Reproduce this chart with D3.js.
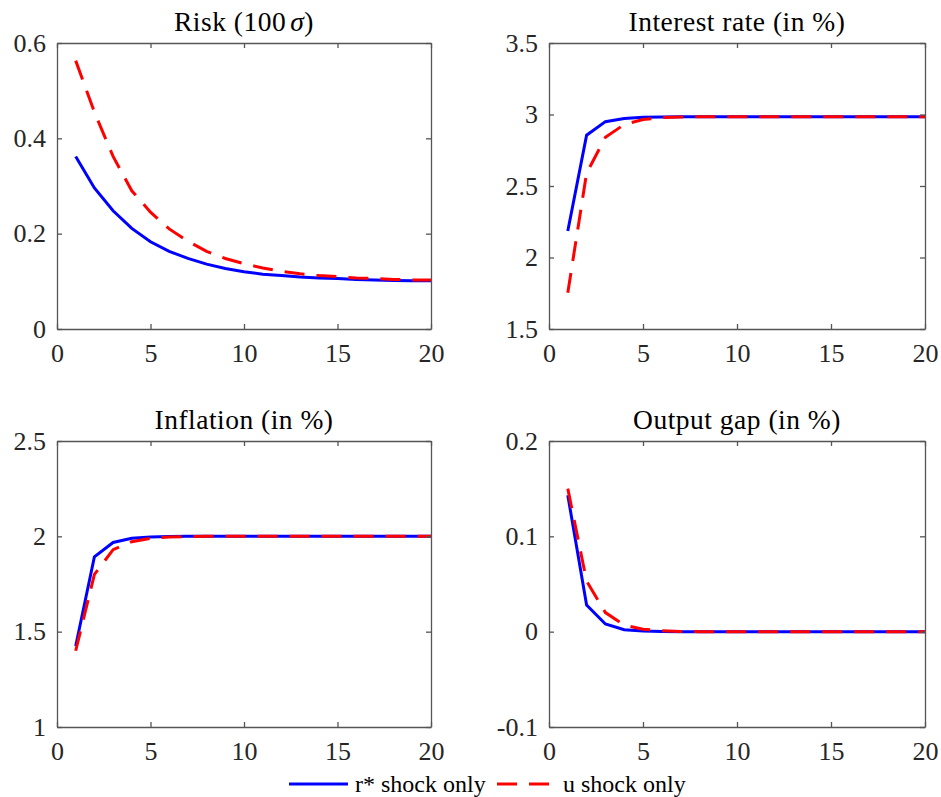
<!DOCTYPE html>
<html>
<head>
<meta charset="UTF-8">
<title>Impulse responses</title>
<script src="https://d3js.org/d3.v7.min.js"></script>
<style>
  body { margin: 0; background: #fff; }
  svg text { font-family: "Liberation Serif", "Times New Roman", serif; }
  .axis path, .axis line { stroke: #555; stroke-width: 1.3px; }
  .axis text { fill: #262626; font-size: 26px; }
  .title { font-size: 27.5px; letter-spacing: 0.5px; fill: #000; }
</style>
</head>
<body>
<div id="chart"></div>
<script>
// horizon (quarters)
var periods = [1, 2, 3, 4, 5, 6, 7, 8, 9, 10, 11, 12, 13, 14, 15, 16, 17, 18, 19, 20];
var xTicks = [0, 5, 10, 15, 20];

// Risk (100 sigma)
var riskRstar = [0.362, 0.296, 0.248, 0.211, 0.183, 0.163, 0.148, 0.136, 0.127, 0.120, 0.115, 0.112, 0.109, 0.107, 0.106, 0.104, 0.103, 0.102, 0.101, 0.101];
var riskU     = [0.563, 0.455, 0.362, 0.290, 0.245, 0.210, 0.184, 0.163, 0.148, 0.137, 0.128, 0.121, 0.116, 0.112, 0.110, 0.107, 0.106, 0.104, 0.103, 0.103];
// Interest rate
var rateRstar = [2.185, 2.855, 2.950, 2.972, 2.980, 2.983, 2.984, 2.985, 2.985, 2.985, 2.985, 2.985, 2.985, 2.985, 2.985, 2.985, 2.985, 2.985, 2.985, 2.985];
var rateU     = [1.754, 2.590, 2.840, 2.930, 2.965, 2.978, 2.983, 2.985, 2.985, 2.985, 2.985, 2.985, 2.985, 2.985, 2.985, 2.985, 2.985, 2.985, 2.985, 2.985];
// Inflation
var inflRstar = [1.425, 1.893, 1.968, 1.990, 1.997, 1.999, 2.000, 2.000, 2.000, 2.000, 2.000, 2.000, 2.000, 2.000, 2.000, 2.000, 2.000, 2.000, 2.000, 2.000];
var inflU     = [1.400, 1.800, 1.930, 1.972, 1.990, 1.996, 1.999, 2.000, 2.000, 2.000, 2.000, 2.000, 2.000, 2.000, 2.000, 2.000, 2.000, 2.000, 2.000, 2.000];
// Output gap
var gapRstar = [0.143, 0.028, 0.008, 0.002, 0.0006, 0.0002, 0, 0, 0, 0, 0, 0, 0, 0, 0, 0, 0, 0, 0, 0];
var gapU     = [0.150, 0.053, 0.020, 0.007, 0.0025, 0.001, 0.0003, 0, 0, 0, 0, 0, 0, 0, 0, 0, 0, 0, 0, 0];

var titles = ['Risk (100', 'Interest rate (in %)', 'Inflation (in %)', 'Output gap (in %)'];
var yDomains = [[0, 0.6], [1.5, 3.5], [1, 2.5], [-0.1, 0.2]];
var yTicks = [[0, 0.2, 0.4, 0.6], [1.5, 2, 2.5, 3, 3.5], [1, 1.5, 2, 2.5], [-0.1, 0, 0.1, 0.2]];
var seriesNames = ['r* shock only', 'u shock only'];

var width = 941, height = 797;
var colLeft = [57, 549], colRight = [431, 925];
var rowTop = [43, 441], rowBottom = [329, 727];

var svg = d3.select('#chart').append('svg')
  .attr('width', width)
  .attr('height', height);

var panels = [
  { r: riskRstar, u: riskU },
  { r: rateRstar, u: rateU },
  { r: inflRstar, u: inflU },
  { r: gapRstar, u: gapU }
];

var fmt = function(v) { return String(+v.toFixed(2)); };

panels.forEach(function(p, i) {
  var col = i % 2, row = Math.floor(i / 2);
  var x = d3.scaleLinear().domain([0, 20]).range([colLeft[col], colRight[col]]);
  var y = d3.scaleLinear().domain(yDomains[i]).range([rowBottom[row], rowTop[row]]);
  var g = svg.append('g');

  var line = d3.line()
    .x(function(d, k) { return x(periods[k]); })
    .y(function(d) { return y(d); });

  g.append('path')
    .datum(p.r)
    .attr('d', line)
    .attr('fill', 'none')
    .attr('stroke', '#0000ff')
    .attr('stroke-width', 3);

  g.append('path')
    .datum(p.u)
    .attr('d', line)
    .attr('fill', 'none')
    .attr('stroke', '#ff0000')
    .attr('stroke-width', 3)
    .attr('stroke-dasharray', '20,12');

  // box with inward ticks on all four sides
  g.append('g').attr('class', 'axis')
    .attr('transform', 'translate(0,' + rowBottom[row] + ')')
    .call(d3.axisBottom(x).tickValues(xTicks).tickFormat(fmt).tickSizeInner(-5).tickSizeOuter(0).tickPadding(15));
  g.append('g').attr('class', 'axis')
    .attr('transform', 'translate(0,' + rowTop[row] + ')')
    .call(d3.axisTop(x).tickValues(xTicks).tickFormat('').tickSizeInner(-5).tickSizeOuter(0));
  g.append('g').attr('class', 'axis')
    .attr('transform', 'translate(' + colLeft[col] + ',0)')
    .call(d3.axisLeft(y).tickValues(yTicks[i]).tickFormat(fmt).tickSizeInner(-5).tickSizeOuter(0).tickPadding(11));
  g.append('g').attr('class', 'axis')
    .attr('transform', 'translate(' + colRight[col] + ',0)')
    .call(d3.axisRight(y).tickValues(yTicks[i]).tickFormat('').tickSizeInner(-5).tickSizeOuter(0));

  var t = g.append('text')
    .attr('class', 'title')
    .attr('x', (colLeft[col] + colRight[col]) / 2)
    .attr('y', rowTop[row] - 12)
    .attr('text-anchor', 'middle')
    .text(titles[i]);
  if (i === 0) {
    t.append('tspan').attr('dx', 4).attr('font-style', 'italic').text('\u03c3');
    t.append('tspan').text(')');
  }
});

// legend
var legendY = 784;
var legend = svg.append('g');
legend.append('line')
  .attr('x1', 289).attr('x2', 348).attr('y1', legendY).attr('y2', legendY)
  .attr('stroke', '#0000ff').attr('stroke-width', 3);
legend.append('text')
  .attr('x', 355).attr('y', legendY + 8)
  .attr('font-size', 24).attr('fill', '#000')
  .text(seriesNames[0]);
legend.append('line')
  .attr('x1', 497).attr('x2', 549).attr('y1', legendY).attr('y2', legendY)
  .attr('stroke', '#ff0000').attr('stroke-width', 3)
  .attr('stroke-dasharray', '20,12');
legend.append('text')
  .attr('x', 563).attr('y', legendY + 8)
  .attr('font-size', 24).attr('fill', '#000')
  .text(seriesNames[1]);
</script>
</body>
</html>
